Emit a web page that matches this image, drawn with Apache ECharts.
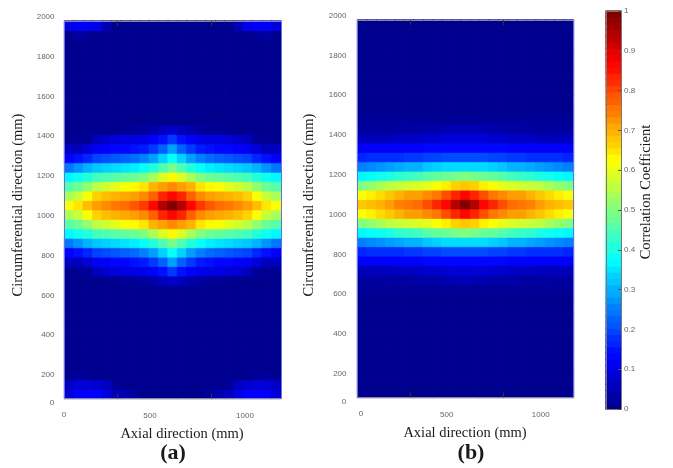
<!DOCTYPE html>
<html><head><meta charset="utf-8">
<style>html,body{margin:0;padding:0;background:#fff}#c{width:673px;height:468px;filter:blur(0.4px)}</style>
<script src="https://cdn.jsdelivr.net/npm/echarts@6/dist/echarts.min.js"></script>
</head><body><div id="c"></div>
<script>
// Values in hundredths of the correlation coefficient; rows run bottom to top.
const Z = [0,0,0,0,0,0,0,0,0,0,0,0,0,0,0,0,0,0,0,0,0,0,0];
const panelA = [
[8,12,12,12,9,5,4,2,0,0,0,0,0,0,0,2,4,5,9,12,12,12,8],
[6,8,8,7,6,1,0,0,0,0,0,0,0,0,0,0,0,1,6,7,8,8,6],
[0,2,1,0,0,0,0,0,0,0,0,0,0,0,0,0,0,0,0,0,1,2,0],
Z,Z,Z,Z,Z,Z,Z,Z,Z,
[0,0,0,0,0,0,1,1,2,3,5,7,5,3,2,1,1,0,0,0,0,0,0],
[0,1,1,5,7,8,9,9,10,12,14,18,14,12,10,9,9,8,7,5,1,1,0],
[6,5,8,11,12,13,13,14,15,18,22,28,22,18,15,14,13,13,12,11,8,5,6],
[12,14,16,19,20,21,22,23,25,28,33,38,33,28,25,23,22,21,20,19,16,14,12],
[24,27,30,32,33,34,35,36,38,41,45,49,45,41,38,36,35,34,33,32,30,27,24],
[37,39,41,44,45,46,47,48,50,54,59,63,59,54,50,48,47,46,45,44,41,39,37],
[46,48,52,56,58,60,62,63,65,70,72,74,72,70,65,63,62,60,58,56,52,48,46],
[54,57,62,67,69,70,71,72,74,78,84,87,84,78,74,72,71,70,69,67,62,57,54],
[62,65,69,72,74,76,77,79,82,87,95,100,95,87,82,79,77,76,74,72,69,65,62],
[54,57,62,67,69,70,71,72,74,78,84,87,84,78,74,72,71,70,69,67,62,57,54],
[46,48,52,56,58,60,62,63,65,70,72,74,72,70,65,63,62,60,58,56,52,48,46],
[37,39,41,44,45,46,47,48,50,54,59,63,59,54,50,48,47,46,45,44,41,39,37],
[24,27,30,32,33,34,35,36,38,41,45,49,45,41,38,36,35,34,33,32,30,27,24],
[12,14,16,19,20,21,22,23,25,28,33,38,33,28,25,23,22,21,20,19,16,14,12],
[6,5,8,11,12,13,13,14,15,18,22,28,22,18,15,14,13,13,12,11,8,5,6],
[0,1,1,5,7,8,9,9,10,12,14,18,14,12,10,9,9,8,7,5,1,1,0],
[0,0,0,0,0,0,1,1,2,3,5,7,5,3,2,1,1,0,0,0,0,0,0],
Z,Z,Z,Z,Z,Z,Z,Z,Z,
[0,2,1,0,0,0,0,0,0,0,0,0,0,0,0,0,0,0,0,0,1,2,0],
[9,11,11,10,4,0,0,0,0,0,0,0,0,0,0,0,0,0,4,10,11,11,9]
];
const panelB = [
Z,Z,Z,Z,Z,Z,Z,Z,Z,Z,Z,
[1,1,1,1,1,1,1,1,1,1,1,1,1,1,1,1,1,1,1,1,1,1,1],
[2,2,2,2,2,2,3,3,3,4,4,5,4,4,3,3,3,2,2,2,2,2,2],
[5,5,5,5,6,6,6,7,7,8,8,8,8,8,7,7,6,6,6,5,5,5,5],
[12,12,12,12,12,12,12,13,13,13,13,13,13,13,13,13,12,12,12,12,12,12,12],
[16,17,17,17,17,18,18,19,19,20,20,20,20,20,19,19,18,18,17,17,17,17,16],
[25,26,27,28,29,30,30,32,33,34,34,34,34,34,33,32,30,30,29,28,27,26,25],
[37,38,39,40,42,43,44,46,47,48,49,50,49,48,47,46,44,43,42,40,39,38,37],
[50,52,54,56,57,58,59,60,62,64,67,68,67,64,62,60,59,58,57,56,54,52,50],
[62,64,66,68,70,72,72,74,76,80,84,87,84,80,76,74,72,72,70,68,66,64,62],
[68,69,70,72,75,76,77,80,84,87,95,100,95,87,84,80,77,76,75,72,70,69,68],
[62,64,66,68,70,72,72,74,76,80,84,87,84,80,76,74,72,72,70,68,66,64,62],
[50,52,54,56,57,58,59,60,62,64,67,68,67,64,62,60,59,58,57,56,54,52,50],
[37,38,39,40,42,43,44,46,47,48,49,50,49,48,47,46,44,43,42,40,39,38,37],
[25,26,27,28,29,30,30,32,33,34,34,34,34,34,33,32,30,30,29,28,27,26,25],
[16,17,17,17,17,18,18,19,19,20,20,20,20,20,19,19,18,18,17,17,17,17,16],
[12,12,12,12,12,12,12,13,13,13,13,13,13,13,13,13,12,12,12,12,12,12,12],
[5,5,5,5,6,6,6,7,7,8,8,8,8,8,7,7,6,6,6,5,5,5,5],
[2,2,2,2,2,2,3,3,3,4,4,5,4,4,3,3,3,2,2,2,2,2,2],
[1,1,1,1,1,1,1,1,1,1,1,1,1,1,1,1,1,1,1,1,1,1,1],
Z,Z,Z,Z,Z,Z,Z,Z,Z,Z
];
const colorLevels = [0,2,3,5,6,8,10,11,13,14,16,17,19,21,22,24,25,27,29,30,32,33,35,37,38,40,41,43,44,46,48,49,51,52,54,56,57,59,60,62,63,65,67,68,70,71,73,75,76,78,79,81,83,84,86,87,89,90,92,94,95,97,98,100];
const jet = ['#00008f','#0000ff','#0080ff','#00ffff','#80ff80','#ffff00','#ff8000','#ff0000','#800000'];
const xTitle = 'Axial direction (mm)';
const yTitle = 'Circumferential direction (mm)';
const barTitle = 'Correlation Coefficient';

const grids=[], xAxes=[], yAxes=[], series=[];
const labelStyle={color:'#666',fontSize:8,fontFamily:'Liberation Sans'};
const off={show:false};
const plain=v=>String(v);
const line=c=>({show:true,onZero:false,lineStyle:{color:c,width:1}});
function addGrid(r){grids.push(Object.assign({containLabel:false},r));return grids.length-1;}
function catX(g,n){xAxes.push({gridIndex:g,type:'category',data:n,axisLine:off,axisTick:off,axisLabel:off,splitLine:off,splitArea:off});return xAxes.length-1;}
function catY(g,n){yAxes.push({gridIndex:g,type:'category',data:n,axisLine:off,axisTick:off,axisLabel:off,splitLine:off,splitArea:off});return yAxes.length-1;}
function valX(g,o){xAxes.push(Object.assign({gridIndex:g,type:'value',min:0,max:1200,splitLine:off,axisLine:{show:false,onZero:false},axisTick:off,axisLabel:off,z:6},o));return xAxes.length-1;}
function valY(g,o){yAxes.push(Object.assign({gridIndex:g,type:'value',min:0,max:2000,splitLine:off,axisLine:{show:false,onZero:false},axisTick:off,axisLabel:off,z:6},o));return yAxes.length-1;}
const idx=n=>Array.from({length:n},(_,i)=>i);
const frameTicks=[294,811];
// each cell gets a hairline of its own colour so neighbouring cells leave no seam
const cell=(c,r,v)=>({value:[c,r,v],itemStyle:{borderWidth:0.7,borderColor:echarts.color.lerp(v/100,jet)}});

function panel(rows,p){
  const g=addGrid({left:p.left,top:p.top,width:p.w,height:p.h});
  const xi=catX(g,idx(23)), yi=catY(g,idx(40));
  const data=[];
  rows.forEach((row,r)=>row.forEach((v,c)=>data.push(cell(c,r,v))));
  series.push({type:'heatmap',xAxisIndex:xi,yAxisIndex:yi,data,progressive:0,emphasis:{disabled:true}});
  const f=addGrid({left:p.left,top:p.top,width:p.w,height:p.h});
  const tick={show:true,inside:true,length:5,customValues:frameTicks,lineStyle:{color:'#333',width:1}};
  valX(f,{position:'bottom',axisLine:line('#8a8a9a'),axisTick:tick});
  valX(f,{position:'top',axisLine:line('#8a8a8a'),axisTick:tick});
  valY(f,{position:'left',axisLine:line('#6f6fd8')});
  valY(f,{position:'right',axisLine:line('#6f6fd8')});
  const ly=addGrid({left:p.left,top:p.yTop,width:p.w,height:p.yH});
  valX(ly,{});
  valY(ly,{position:'left',interval:200,axisLabel:Object.assign({show:true,showMinLabel:false,margin:p.yMargin,formatter:plain},labelStyle)});
  const lx=addGrid({left:p.xLeft,top:p.top,width:p.xW,height:p.xH});
  valX(lx,{position:'bottom',interval:500,axisLabel:Object.assign({show:true,showMinLabel:false,showMaxLabel:false,margin:p.xMargin,formatter:plain},labelStyle)});
  valY(lx,{});
}
panel(panelA,{left:64.5,top:21,w:216.5,h:377.5,yTop:16.7,yH:398,yMargin:10,xLeft:55,xW:228,xH:377.5,xMargin:13});
panel(panelB,{left:357.5,top:20,w:216,h:377.5,yTop:15.5,yH:398,yMargin:11,xLeft:352.7,xW:225.6,xH:376.5,xMargin:14});

// colour bar
const cb=addGrid({left:606,top:11,width:15,height:398});
series.push({type:'heatmap',xAxisIndex:catX(cb,['c']),yAxisIndex:catY(cb,idx(64)),
  data:colorLevels.map((v,i)=>cell(0,i,v)),progressive:0,emphasis:{disabled:true}});
const cbf=addGrid({left:606,top:11,width:15,height:398});
valX(cbf,{position:'bottom',max:1,axisLine:line('#777')});
valX(cbf,{position:'top',max:1,axisLine:line('#777')});
valY(cbf,{position:'left',max:1,axisLine:line('#777')});
valY(cbf,{position:'right',max:1,interval:0.1,axisLine:line('#777'),
  axisTick:{show:true,inside:true,length:3,lineStyle:{color:'#555'}},
  axisLabel:Object.assign({show:true,margin:3,formatter:v=>String(+v.toFixed(1))},labelStyle)});

function text(x,y,s,o){
  return {type:'text',x,y,rotation:o.rot||0,z:20,style:{text:s,fill:o.fill||'#1a1a1a',align:'center',verticalAlign:'middle',
    font:(o.bold?'bold ':'')+o.size+'px "'+(o.fam||'Liberation Serif')+'"'}};
}
const up=Math.PI/2;
const graphics=[
  text(182,434,xTitle,{size:14.5}),
  text(465,433,xTitle,{size:14.5}),
  text(173,453,'(a)',{size:22,bold:true}),
  text(471,453,'(b)',{size:22,bold:true}),
  text(18,205,yTitle,{size:14.5,rot:up}),
  text(309,205,yTitle,{size:14.5,rot:up}),
  text(646,192,barTitle,{size:14.5,rot:up}),
  text(52,403,'0',{size:8,fam:'Liberation Sans',fill:'#666'}),
  text(344,402,'0',{size:8,fam:'Liberation Sans',fill:'#666'}),
  text(64,415,'0',{size:8,fam:'Liberation Sans',fill:'#666'}),
  text(361,414,'0',{size:8,fam:'Liberation Sans',fill:'#666'})
];

const chart=echarts.init(document.getElementById('c'),null,{renderer:'canvas'});
chart.setOption({
  animation:false,backgroundColor:'#fff',
  grid:grids,xAxis:xAxes,yAxis:yAxes,series,
  visualMap:{show:false,type:'continuous',min:0,max:100,seriesIndex:[0,1,2],inRange:{color:jet}},
  graphic:graphics
});
</script></body></html>
